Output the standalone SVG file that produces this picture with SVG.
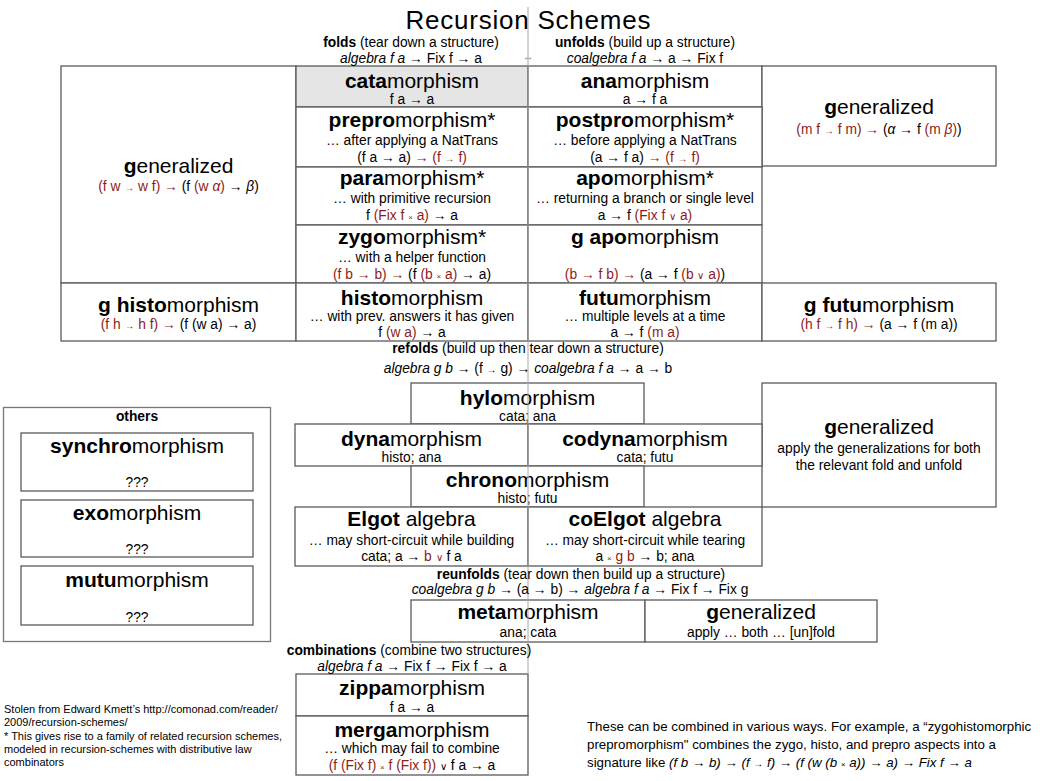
<svg xmlns="http://www.w3.org/2000/svg" width="1052" height="781" viewBox="0 0 1052 781">
<style>
text{font-family:"Liberation Sans",Arial,Helvetica,sans-serif;fill:#000;text-anchor:middle}
.h{font-size:21px}
.s{font-size:13.8px}
.b{font-weight:bold}
.r{fill:#8e1b17}
.i{font-style:italic}
.sm{font-size:10px}
.x{font-size:8px}
.st{text-anchor:start}
.note{font-size:11px}
.note2{font-size:13.3px}
.box{fill:#fff;stroke:#5a5a5a;stroke-width:1.3}
.gray{fill:#e5e5e5}
.div{stroke:#a8a8a8;stroke-width:1;fill:none}
</style>
<rect width="1052" height="781" fill="#fff"/>

<g id="boxes">
<rect id="others-frame" class="box" x="3.5" y="407.5" width="267" height="234" style="stroke:#777"/>
</g>

<g id="node-left-generalized"><rect class="box" x="61" y="66" width="235" height="217"/>
<text class="h" x="178.5" y="173"><tspan class="b">g</tspan>eneralized</text>
<text class="s" x="178.5" y="191"><tspan class="r">(f w <tspan class="sm">→</tspan> w f) →</tspan> (f <tspan class="r">(w <tspan class="i">α</tspan>)</tspan> → <tspan class="i">β</tspan>)</text></g>

<g id="node-cata"><rect class="box gray" x="296" y="66" width="232" height="41"/>
<text class="h" x="412" y="88"><tspan class="b">cata</tspan>morphism</text>
<text class="s" x="412" y="104">f a → a</text></g>

<g id="node-ana"><rect class="box" x="528" y="66" width="234" height="41"/>
<text class="h" x="645" y="88"><tspan class="b">ana</tspan>morphism</text>
<text class="s" x="645" y="104">a → f a</text></g>

<g id="node-right-generalized"><rect class="box" x="762" y="66" width="234" height="100"/>
<text class="h" x="879" y="114"><tspan class="b">g</tspan>eneralized</text>
<text class="s" x="879" y="134"><tspan class="r">(m f <tspan class="sm">→</tspan> f m) →</tspan> (<tspan class="i">α</tspan> → f <tspan class="r">(m <tspan class="i">β</tspan>)</tspan>)</text></g>

<g id="node-prepro"><rect class="box" x="296" y="107" width="232" height="60"/>
<text class="h" x="412" y="127"><tspan class="b">prepro</tspan>morphism*</text>
<text class="s" x="412" y="145">… after applying a NatTrans</text>
<text class="s" x="412" y="162">(f a → a) <tspan class="r">→ (f <tspan class="sm">→</tspan> f)</tspan></text></g>

<g id="node-postpro"><rect class="box" x="528" y="107" width="234" height="60"/>
<text class="h" x="645" y="127"><tspan class="b">postpro</tspan>morphism*</text>
<text class="s" x="645" y="145">… before applying a NatTrans</text>
<text class="s" x="645" y="162">(a → f a) <tspan class="r">→ (f <tspan class="sm">→</tspan> f)</tspan></text></g>

<g id="node-para"><rect class="box" x="296" y="167" width="232" height="58"/>
<text class="h" x="412" y="185"><tspan class="b">para</tspan>morphism*</text>
<text class="s" x="412" y="203">… with primitive recursion</text>
<text class="s" x="412" y="220">f <tspan class="r">(Fix f <tspan class="x">×</tspan> a)</tspan> → a</text></g>

<g id="node-apo"><rect class="box" x="528" y="167" width="234" height="58"/>
<text class="h" x="645" y="185"><tspan class="b">apo</tspan>morphism*</text>
<text class="s" x="645" y="203">… returning a branch or single level</text>
<text class="s" x="645" y="220">a → f <tspan class="r">(Fix f <tspan class="sm">∨</tspan> a)</tspan></text></g>

<g id="node-zygo"><rect class="box" x="296" y="225" width="232" height="58"/>
<text class="h" x="412" y="244"><tspan class="b">zygo</tspan>morphism*</text>
<text class="s" x="412" y="262">… with a helper function</text>
<text class="s" x="412" y="279"><tspan class="r">(f b → b) →</tspan> (f <tspan class="r">(b <tspan class="x">×</tspan> a)</tspan> → a)</text></g>

<g id="node-gapo"><rect class="box" x="528" y="225" width="234" height="58"/>
<text class="h" x="645" y="244"><tspan class="b">g apo</tspan>morphism</text>
<text class="s" x="645" y="279"><tspan class="r">(b → f b) →</tspan> (a → f <tspan class="r">(b <tspan class="sm">∨</tspan> a)</tspan>)</text></g>

<g id="node-ghisto"><rect class="box" x="61" y="283" width="235" height="58"/>
<text class="h" x="178.5" y="312"><tspan class="b">g histo</tspan>morphism</text>
<text class="s" x="178.5" y="329"><tspan class="r">(f h <tspan class="sm">→</tspan> h f) →</tspan> (f (w a) → a)</text></g>

<g id="node-histo"><rect class="box" x="296" y="283" width="232" height="58"/>
<text class="h" x="412" y="305"><tspan class="b">histo</tspan>morphism</text>
<text class="s" x="412" y="321">… with prev. answers it has given</text>
<text class="s" x="412" y="337">f <tspan class="r">(w a)</tspan> → a</text></g>

<g id="node-futu"><rect class="box" x="528" y="283" width="234" height="58"/>
<text class="h" x="645" y="305"><tspan class="b">futu</tspan>morphism</text>
<text class="s" x="645" y="321">… multiple levels at a time</text>
<text class="s" x="645" y="337">a → f <tspan class="r">(m a)</tspan></text></g>

<g id="node-gfutu"><rect class="box" x="762" y="283" width="234" height="58"/>
<text class="h" x="879" y="312"><tspan class="b">g futu</tspan>morphism</text>
<text class="s" x="879" y="329"><tspan class="r">(h f <tspan class="sm">→</tspan> f h) →</tspan> (a → f (m a))</text></g>

<g id="node-hylo"><rect class="box" x="411" y="383" width="233" height="41"/>
<text class="h" x="527.5" y="405"><tspan class="b">hylo</tspan>morphism</text>
<text class="s" x="527.5" y="421">cata; ana</text></g>

<g id="node-refold-generalized"><rect class="box" x="762" y="383" width="234" height="124"/>
<text class="h" x="879" y="434"><tspan class="b">g</tspan>eneralized</text>
<text class="s" x="879" y="453">apply the generalizations for both</text>
<text class="s" x="879" y="470">the relevant fold and unfold</text></g>

<g id="node-dyna"><rect class="box" x="295" y="424" width="233" height="42"/>
<text class="h" x="411.5" y="446"><tspan class="b">dyna</tspan>morphism</text>
<text class="s" x="411.5" y="462">histo; ana</text></g>

<g id="node-codyna"><rect class="box" x="528" y="424" width="234" height="42"/>
<text class="h" x="645" y="446"><tspan class="b">codyna</tspan>morphism</text>
<text class="s" x="645" y="462">cata; futu</text></g>

<g id="node-chrono"><rect class="box" x="411" y="466" width="233" height="41"/>
<text class="h" x="527.5" y="487"><tspan class="b">chrono</tspan>morphism</text>
<text class="s" x="527.5" y="503">histo; futu</text></g>

<g id="node-elgot"><rect class="box" x="295" y="507" width="233" height="59"/>
<text class="h" x="411.5" y="526"><tspan class="b">Elgot</tspan> algebra</text>
<text class="s" x="411.5" y="545">… may short-circuit while building</text>
<text class="s" x="411.5" y="561">cata; a → <tspan class="r">b <tspan class="sm">∨</tspan></tspan> f a</text></g>

<g id="node-coelgot"><rect class="box" x="528" y="507" width="234" height="59"/>
<text class="h" x="645" y="526"><tspan class="b">coElgot</tspan> algebra</text>
<text class="s" x="645" y="545">… may short-circuit while tearing</text>
<text class="s" x="645" y="561">a <tspan class="r"><tspan class="x">×</tspan> g b</tspan> → b; ana</text></g>

<g id="node-meta"><rect class="box" x="411" y="600" width="234" height="42"/>
<text class="h" x="528" y="619"><tspan class="b">meta</tspan>morphism</text>
<text class="s" x="528" y="637">ana; cata</text></g>

<g id="node-meta-generalized"><rect class="box" x="645" y="600" width="232" height="42"/>
<text class="h" x="761" y="619"><tspan class="b">g</tspan>eneralized</text>
<text class="s" x="761" y="637">apply … both … [un]fold</text></g>

<g id="node-zippa"><rect class="box" x="296" y="674" width="232" height="42"/>
<text class="h" x="412" y="695"><tspan class="b">zippa</tspan>morphism</text>
<text class="s" x="412" y="712">f a → a</text></g>

<g id="node-merga"><rect class="box" x="296" y="716" width="232" height="59"/>
<text class="h" x="412" y="737"><tspan class="b">merga</tspan>morphism</text>
<text class="s" x="412" y="753">… which may fail to combine</text>
<text class="s" x="412" y="770"><tspan class="r">(f (Fix f) <tspan class="x">×</tspan> f (Fix f))</tspan> <tspan class="sm">∨</tspan> f a → a</text></g>

<g id="node-others">
<text class="s b" x="137" y="421">others</text>
<g id="node-synchro"><rect class="box" x="21" y="433" width="232" height="58"/>
<text class="h" x="137" y="453"><tspan class="b">synchro</tspan>morphism</text>
<text class="s" x="137" y="487">???</text></g>
<g id="node-exo"><rect class="box" x="21" y="500" width="232" height="57"/>
<text class="h" x="137" y="520"><tspan class="b">exo</tspan>morphism</text>
<text class="s" x="137" y="554">???</text></g>
<g id="node-mutu"><rect class="box" x="21" y="566" width="232" height="59"/>
<text class="h" x="137" y="587"><tspan class="b">mutu</tspan>morphism</text>
<text class="s" x="137" y="622">???</text></g>
</g>

<g id="connectors">
<line class="div" x1="528" y1="7" x2="528" y2="674"/>
</g>

<g id="headers">
<text x="528" y="28.5" style="font-size:26px" textLength="245" lengthAdjust="spacing">Recursion Schemes</text>
<text class="s" x="411" y="47"><tspan class="b">folds</tspan> (tear down a structure)</text>
<text class="s" x="411" y="63"><tspan class="i">algebra f a</tspan> → Fix f → a</text>
<text class="sm" x="528" y="60" style="fill:#666">↔</text>
<text class="s" x="645" y="47"><tspan class="b">unfolds</tspan> (build up a structure)</text>
<text class="s" x="645" y="63"><tspan class="i">coalgebra f a</tspan> → a → Fix f</text>
<text class="s" x="528" y="353"><tspan class="b">refolds</tspan> (build up then tear down a structure)</text>
<text class="s" x="528" y="373"><tspan class="i">algebra g b</tspan> → (f <tspan class="sm">→</tspan> g) → <tspan class="i">coalgebra f a</tspan> → a → b</text>
<text class="s" x="581" y="579"><tspan class="b">reunfolds</tspan> (tear down then build up a structure)</text>
<text class="s" x="580" y="594"><tspan class="i">coalgebra g b</tspan> → (a → b) → <tspan class="i">algebra f a</tspan> → Fix f → Fix g</text>
<text class="s" x="409" y="655"><tspan class="b">combinations</tspan> (combine two structures)</text>
<text class="s" x="412" y="671"><tspan class="i">algebra f a</tspan> → Fix f → Fix f → a</text>
</g>

<g id="notes">
<text class="st note" x="4" y="713">Stolen from Edward Kmett’s http://comonad.com/reader/</text>
<text class="st note" x="4" y="726">2009/recursion-schemes/</text>
<text class="st note" x="4" y="740">* This gives rise to a family of related recursion schemes,</text>
<text class="st note" x="4" y="753">modeled in recursion-schemes with distributive law</text>
<text class="st note" x="4" y="766">combinators</text>
<text class="st note2" x="587" y="731">These can be combined in various ways. For example, a “zygohistomorphic</text>
<text class="st note2" x="587" y="749">prepromorphism" combines the zygo, histo, and prepro aspects into a</text>
<text class="st note2" x="587" y="767">signature like <tspan class="i">(f b → b) → (f <tspan class="sm">→</tspan> f) → (f (w (b <tspan class="x">×</tspan> a)) → a) → Fix f → a</tspan></text>
</g>
</svg>
